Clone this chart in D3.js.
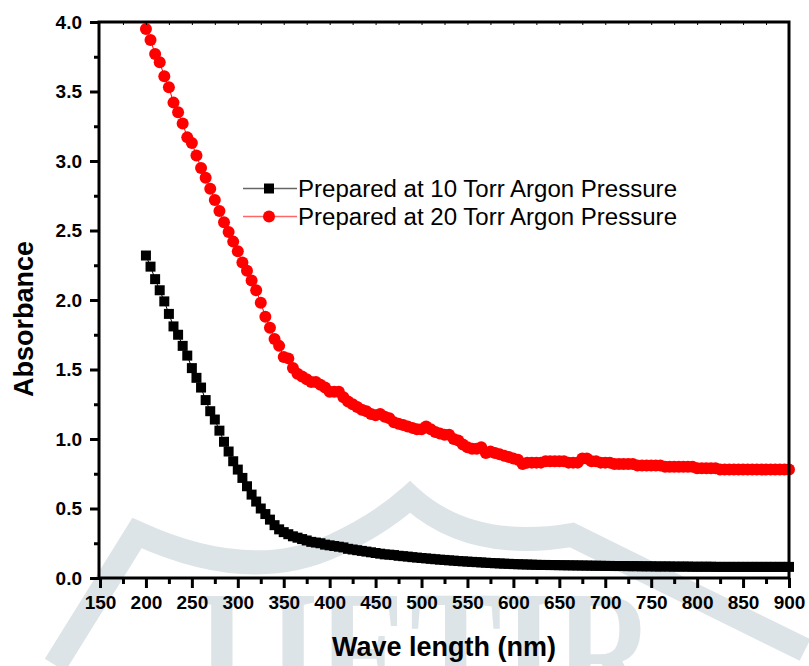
<!DOCTYPE html>
<html>
<head>
<meta charset="utf-8">
<script src="https://cdn.jsdelivr.net/npm/d3@7"></script>
<style>
  body { margin: 0; background: #fff; }
  svg { display: block; }
</style>
</head>
<body>
<div id="chart"></div>
<script>
// wavelength grid (nm) shared by both series
const wavelengths = [
  200, 205, 210, 215, 220, 225, 230, 235, 240, 245, 250, 255, 260, 265, 270, 275, 280, 285, 290, 295,
  300, 305, 310, 315, 320, 325, 330, 335, 340, 345, 350, 355, 360, 365, 370, 375, 380, 385, 390, 395,
  400, 405, 410, 415, 420, 425, 430, 435, 440, 445, 450, 455, 460, 465, 470, 475, 480, 485, 490, 495,
  500, 505, 510, 515, 520, 525, 530, 535, 540, 545, 550, 555, 560, 565, 570, 575, 580, 585, 590, 595,
  600, 605, 610, 615, 620, 625, 630, 635, 640, 645, 650, 655, 660, 665, 670, 675, 680, 685, 690, 695,
  700, 705, 710, 715, 720, 725, 730, 735, 740, 745, 750, 755, 760, 765, 770, 775, 780, 785, 790, 795,
  800, 805, 810, 815, 820, 825, 830, 835, 840, 845, 850, 855, 860, 865, 870, 875, 880, 885, 890, 895,
  900
];

const absorbance10Torr = [
  2.32, 2.24, 2.15, 2.07, 1.99, 1.90, 1.81, 1.75, 1.67, 1.60, 1.51, 1.44, 1.37, 1.28, 1.20, 1.14, 1.06, 0.98, 0.91, 0.84,
  0.78, 0.72, 0.66, 0.60, 0.55, 0.50, 0.46, 0.42, 0.38, 0.35, 0.33, 0.315, 0.30, 0.29, 0.28, 0.27, 0.26, 0.255, 0.25, 0.24,
  0.235, 0.23, 0.225, 0.22, 0.21, 0.205, 0.20, 0.195, 0.19, 0.185, 0.18, 0.175, 0.17, 0.168, 0.165, 0.16, 0.157, 0.154, 0.15, 0.147,
  0.144, 0.141, 0.138, 0.135, 0.132, 0.13, 0.127, 0.125, 0.122, 0.12, 0.118, 0.116, 0.114, 0.112, 0.11, 0.108, 0.106, 0.105, 0.103, 0.102,
  0.10, 0.099, 0.098, 0.097, 0.096, 0.095, 0.094, 0.094, 0.093, 0.093, 0.092, 0.092, 0.091, 0.091, 0.09, 0.09, 0.089, 0.089, 0.088, 0.088,
  0.087, 0.087, 0.086, 0.086, 0.086, 0.085, 0.085, 0.085, 0.084, 0.084, 0.084, 0.083, 0.083, 0.083, 0.083, 0.082, 0.082, 0.082, 0.082, 0.081,
  0.081, 0.081, 0.081, 0.081, 0.08, 0.08, 0.08, 0.08, 0.08, 0.08, 0.08, 0.08, 0.08, 0.08, 0.08, 0.08, 0.08, 0.08, 0.08, 0.08,
  0.08
];

const absorbance20Torr = [
  3.95, 3.87, 3.77, 3.71, 3.61, 3.53, 3.42, 3.35, 3.27, 3.17, 3.13, 3.04, 2.95, 2.88, 2.80, 2.72, 2.64, 2.56, 2.49, 2.42,
  2.35, 2.27, 2.21, 2.14, 2.07, 1.98, 1.88, 1.80, 1.72, 1.67, 1.59, 1.58, 1.51, 1.47, 1.45, 1.43, 1.41, 1.41, 1.39, 1.37,
  1.34, 1.34, 1.34, 1.30, 1.27, 1.25, 1.23, 1.21, 1.20, 1.18, 1.17, 1.18, 1.16, 1.15, 1.12, 1.11, 1.10, 1.09, 1.08, 1.07,
  1.07, 1.09, 1.07, 1.05, 1.04, 1.03, 1.03, 1.00, 0.99, 0.96, 0.94, 0.93, 0.93, 0.94, 0.90, 0.91, 0.90, 0.89, 0.88, 0.87,
  0.86, 0.85, 0.82, 0.83, 0.83, 0.83, 0.83, 0.84, 0.84, 0.84, 0.84, 0.84, 0.83, 0.83, 0.83, 0.86, 0.86, 0.84, 0.84, 0.83,
  0.83, 0.83, 0.82, 0.82, 0.82, 0.82, 0.82, 0.81, 0.81, 0.81, 0.81, 0.81, 0.81, 0.80, 0.80, 0.80, 0.80, 0.80, 0.80, 0.80,
  0.79, 0.79, 0.79, 0.79, 0.79, 0.78, 0.78, 0.78, 0.78, 0.78, 0.78, 0.78, 0.78, 0.78, 0.78, 0.78, 0.78, 0.78, 0.78, 0.78,
  0.78
];

const seriesNames = [
  "Prepared at 10 Torr Argon Pressure",
  "Prepared at 20 Torr Argon Pressure"
];
const xTicks = [150, 200, 250, 300, 350, 400, 450, 500, 550, 600, 650, 700, 750, 800, 850, 900];
const yTicks = [0, 0.5, 1.0, 1.5, 2.0, 2.5, 3.0, 3.5, 4.0];

const WIDTH = 809;
const HEIGHT = 666;
const FONT = "Arial, 'Liberation Sans', sans-serif";
const WATERMARK = "#dde4e7";

const svg = d3.select("#chart")
  .append("svg")
  .attr("width", WIDTH)
  .attr("height", HEIGHT);

const x = d3.scaleLinear().domain([150, 900]).range([100, 789]);
const y = d3.scaleLinear().domain([0, 4]).range([578, 22]);

// faint journal watermark behind the plot
svg.append("path")
  .attr("fill", "none")
  .attr("stroke", WATERMARK)
  .attr("stroke-width", 24)
  .attr("d", `
    M55,665 L137,533
    Q250,585 335,545
    Q380,524 410,497
    Q470,552 572,535
    L805,650
  `);
svg.append("text")
  .attr("x", 425)
  .attr("y", 714)
  .attr("text-anchor", "middle")
  .attr("font-family", "'Liberation Serif', 'DejaVu Serif', serif")
  .attr("font-weight", "bold")
  .attr("font-size", 180)
  .attr("fill", WATERMARK)
  .attr("textLength", 460)
  .attr("lengthAdjust", "spacingAndGlyphs")
  .text("IJETIR");

const points = values => wavelengths.map((w, i) => ({ w, a: values[i] }));
const data10 = points(absorbance10Torr);
const data20 = points(absorbance20Torr);

const line = d3.line().x(d => x(d.w)).y(d => y(d.a));

// series 10 Torr: black squares
svg.append("path")
  .datum(data10)
  .attr("fill", "none")
  .attr("stroke", "#000")
  .attr("stroke-width", 1)
  .attr("d", line);
const squareSymbol = d3.symbol().type(d3.symbolSquare).size(100);
svg.append("g")
  .selectAll("path")
  .data(data10)
  .join("path")
  .attr("transform", d => `translate(${x(d.w)},${y(d.a)})`)
  .attr("d", squareSymbol())
  .attr("fill", "#000");

// series 20 Torr: red circles
svg.append("path")
  .datum(data20)
  .attr("fill", "none")
  .attr("stroke", "#ff0000")
  .attr("stroke-width", 1)
  .attr("d", line);
svg.append("g")
  .selectAll("circle")
  .data(data20)
  .join("circle")
  .attr("cx", d => x(d.w))
  .attr("cy", d => y(d.a))
  .attr("r", 6)
  .attr("fill", "#ff0000");

// axes
const styleAxis = (g, width) => {
  g.selectAll(".domain").remove();
  g.selectAll(".tick line").attr("stroke", "#000").attr("stroke-width", width);
};
const minorX = d3.range(175, 900, 50);
const minorY = [0.25, 0.75, 1.25, 1.75, 2.25, 2.75, 3.25, 3.75];

const bottomAxis = svg.append("g")
  .attr("transform", "translate(0,578)")
  .call(d3.axisBottom(x).tickValues(xTicks).tickSize(10).tickPadding(8).tickFormat(d3.format("d")));
styleAxis(bottomAxis, 3);
bottomAxis.selectAll("text")
  .attr("font-family", FONT)
  .attr("font-weight", "bold")
  .attr("font-size", 19)
  .attr("fill", "#000");
svg.append("g")
  .attr("transform", "translate(0,578)")
  .call(d3.axisBottom(x).tickValues(minorX).tickSize(6).tickFormat(""))
  .call(g => styleAxis(g, 3));

const leftAxis = svg.append("g")
  .attr("transform", "translate(99,0)")
  .call(d3.axisLeft(y).tickValues(yTicks).tickSize(9).tickPadding(8).tickFormat(d3.format(".1f")));
styleAxis(leftAxis, 3);
leftAxis.selectAll("text")
  .attr("font-family", FONT)
  .attr("font-weight", "bold")
  .attr("font-size", 19)
  .attr("fill", "#000");
svg.append("g")
  .attr("transform", "translate(99,0)")
  .call(d3.axisLeft(y).tickValues(minorY).tickSize(5).tickFormat(""))
  .call(g => styleAxis(g, 3));

// short inward ticks on the top edge
svg.append("g")
  .attr("transform", "translate(0,22)")
  .call(d3.axisBottom(x).tickValues(d3.range(175, 900, 25)).tickSize(3).tickFormat(""))
  .call(g => styleAxis(g, 1));

// frame
svg.append("rect")
  .attr("x", 99)
  .attr("y", 22)
  .attr("width", 690)
  .attr("height", 556)
  .attr("fill", "none")
  .attr("stroke", "#000")
  .attr("stroke-width", 3);

// axis titles
svg.append("text")
  .attr("x", 444)
  .attr("y", 656)
  .attr("text-anchor", "middle")
  .attr("font-family", FONT)
  .attr("font-weight", "bold")
  .attr("font-size", 27)
  .text("Wave length (nm)");
svg.append("text")
  .attr("transform", "translate(33,319) rotate(-90)")
  .attr("text-anchor", "middle")
  .attr("font-family", FONT)
  .attr("font-weight", "bold")
  .attr("font-size", 27)
  .text("Absorbance");

// legend
const legend = svg.append("g");
const legendRows = [
  { name: seriesNames[0], color: "#000", y: 188.5, marker: "square" },
  { name: seriesNames[1], color: "#ff0000", y: 216.5, marker: "circle" }
];
legendRows.forEach(row => {
  legend.append("line")
    .attr("x1", 243).attr("x2", 297)
    .attr("y1", row.y).attr("y2", row.y)
    .attr("stroke", row.color)
    .attr("stroke-opacity", 0.6)
    .attr("stroke-width", 1.5);
  if (row.marker === "square") {
    legend.append("path")
      .attr("transform", `translate(269,${row.y})`)
      .attr("d", squareSymbol())
      .attr("fill", row.color);
  } else {
    legend.append("circle")
      .attr("cx", 269).attr("cy", row.y).attr("r", 6)
      .attr("fill", row.color);
  }
  legend.append("text")
    .attr("x", 298)
    .attr("y", row.y + 8)
    .attr("font-family", FONT)
    .attr("font-size", 23)
    .attr("fill", "#000")
    .attr("textLength", 379)
    .attr("lengthAdjust", "spacingAndGlyphs")
    .text(row.name);
});
</script>
</body>
</html>
